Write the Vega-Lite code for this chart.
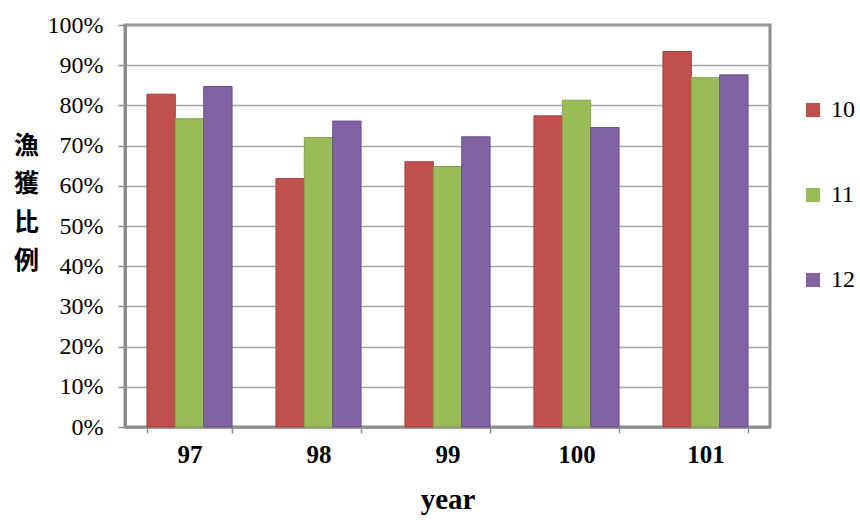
{
  "$schema": "https://vega.github.io/schema/vega-lite/v6.json",
  "width": 645,
  "height": 402,
  "padding": {"left": 125, "top": 25, "right": 90, "bottom": 93},
  "autosize": {"type": "none"},
  "background": "white",
  "config": {
    "view": {"stroke": "#8c8c8c", "strokeWidth": 3},
    "font": "Liberation Serif"
  },
  "data": {
    "values": [
      {"year": "97", "series": "10", "value": 0.828},
      {"year": "97", "series": "11", "value": 0.767},
      {"year": "97", "series": "12", "value": 0.847},
      {"year": "98", "series": "10", "value": 0.618},
      {"year": "98", "series": "11", "value": 0.72},
      {"year": "98", "series": "12", "value": 0.761},
      {"year": "99", "series": "10", "value": 0.66},
      {"year": "99", "series": "11", "value": 0.648},
      {"year": "99", "series": "12", "value": 0.722},
      {"year": "100", "series": "10", "value": 0.774},
      {"year": "100", "series": "11", "value": 0.813},
      {"year": "100", "series": "12", "value": 0.745},
      {"year": "101", "series": "10", "value": 0.934},
      {"year": "101", "series": "11", "value": 0.869},
      {"year": "101", "series": "12", "value": 0.876}
    ]
  },
  "mark": {"type": "bar", "strokeWidth": 1},
  "encoding": {
    "x": {
      "field": "year",
      "type": "nominal",
      "sort": ["97", "98", "99", "100", "101"],
      "scale": {"paddingInner": 0.34, "paddingOuter": 0.17},
      "axis": {
        "title": "year",
        "titleFont": "Liberation Serif",
        "titleFontSize": 29,
        "titleFontWeight": "bold",
        "titleColor": "black",
        "titlePadding": 18,
        "labelAngle": 0,
        "labelFont": "Liberation Serif",
        "labelFontSize": 25,
        "labelFontWeight": "bold",
        "labelColor": "black",
        "labelPadding": 9,
        "tickBand": "extent",
        "tickSize": 6,
        "tickColor": "#8c8c8c",
        "tickWidth": 1.5,
        "domainColor": "#8c8c8c",
        "domainWidth": 2,
        "grid": false
      }
    },
    "xOffset": {
      "field": "series",
      "type": "nominal",
      "scale": {"paddingInner": 0, "paddingOuter": 0}
    },
    "y": {
      "field": "value",
      "type": "quantitative",
      "scale": {"domain": [0, 1]},
      "axis": {
        "format": ".0%",
        "values": [0, 0.1, 0.2, 0.3, 0.4, 0.5, 0.6, 0.7, 0.8, 0.9, 1],
        "labelOverlap": false,
        "labelFont": "Liberation Serif",
        "labelFontSize": 24,
        "labelColor": "black",
        "labelPadding": 15,
        "tickSize": 7,
        "tickColor": "#8c8c8c",
        "tickWidth": 1.5,
        "domainColor": "#8c8c8c",
        "domainWidth": 3,
        "gridColor": "#a6a6a6",
        "gridWidth": 1.5,
        "title": ["漁", "獲", "比", "例"],
        "titleFont": "Noto Sans CJK TC",
        "titleFontSize": 25,
        "titleFontWeight": "bold",
        "titleColor": "black",
        "titleAngle": 0,
        "titleLineHeight": 38.5,
        "titleAlign": "center",
        "titleBaseline": "top",
        "titleX": -99,
        "titleY": 108
      }
    },
    "color": {
      "field": "series",
      "type": "nominal",
      "scale": {"domain": ["10", "11", "12"], "range": ["#C0504D", "#9BBB59", "#8064A2"]},
      "legend": {
        "title": null,
        "orient": "none",
        "legendX": 676,
        "legendY": 73,
        "symbolType": "square",
        "symbolSize": 200,
        "symbolStrokeWidth": 0,
        "labelFont": "Liberation Serif",
        "labelFontSize": 24,
        "labelColor": "black",
        "labelOffset": 6,
        "rowPadding": 61
      }
    },
    "stroke": {
      "field": "series",
      "type": "nominal",
      "scale": {"domain": ["10", "11", "12"], "range": ["#a8403d", "#86a348", "#6a518a"]},
      "legend": null
    }
  }
}
